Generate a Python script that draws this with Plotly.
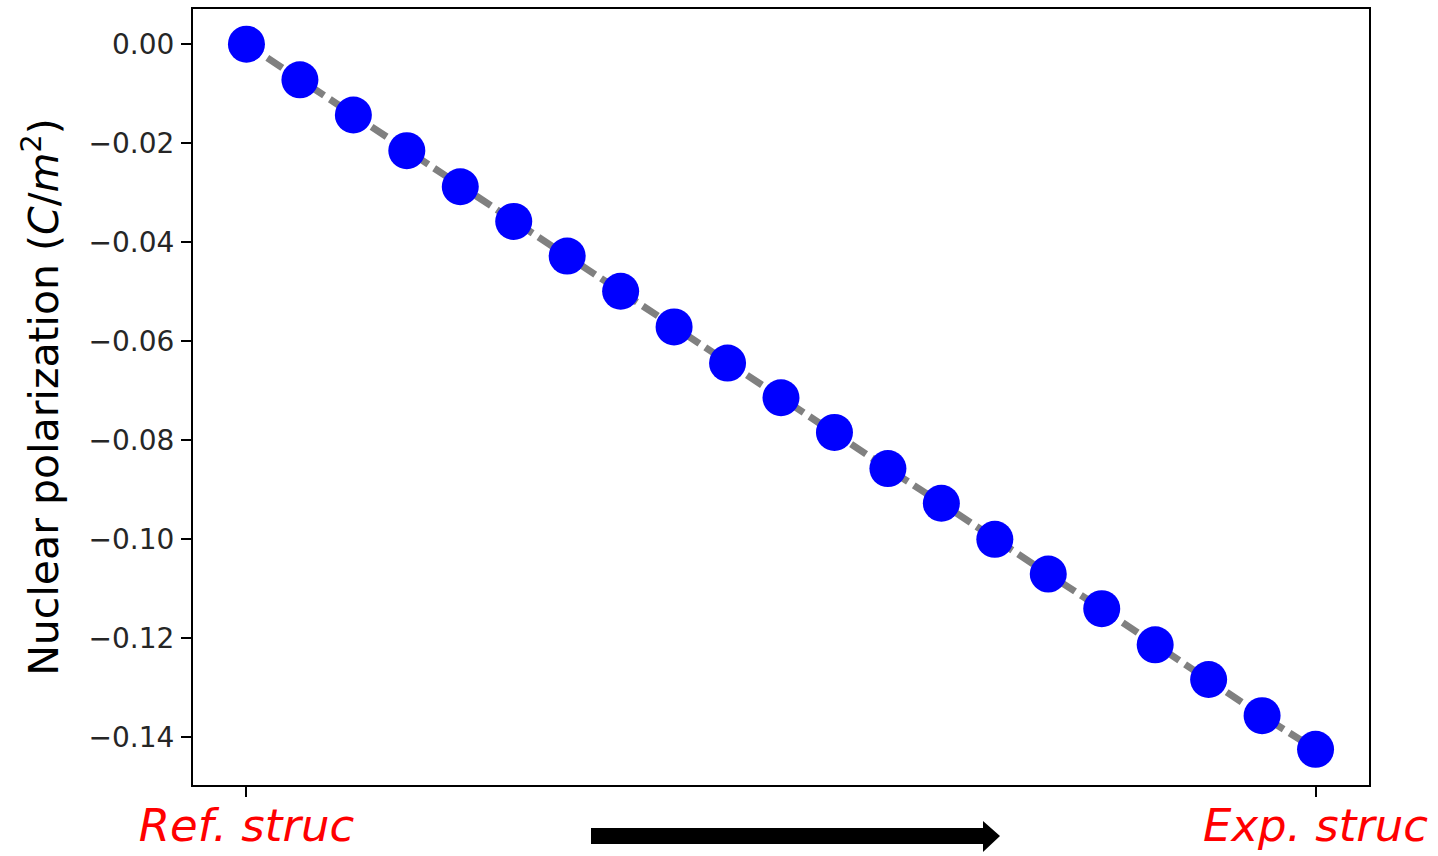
import plotly.graph_objects as go

# ---- data ----
steps = [0, 1, 2, 3, 4, 5, 6, 7, 8, 9, 10, 11, 12, 13, 14, 15, 16, 17, 18, 19, 20]
polarization = [0.0000, -0.0072, -0.0143, -0.0215, -0.0288, -0.0358, -0.0428,
                -0.0499, -0.0571, -0.0644, -0.0714, -0.0784, -0.0857, -0.0927,
                -0.1000, -0.1070, -0.1140, -0.1213, -0.1283, -0.1356, -0.1424]
x_tick_vals = [0, 20]
x_tick_text = ["<i>Ref.</i> <i>struc</i>", "<i>Exp.</i> <i>struc</i>"]
y_tick_vals = [0.00, -0.02, -0.04, -0.06, -0.08, -0.10, -0.12, -0.14]

W, H = 1438, 856
# plot area in window pixels: x 193..1369, y 9..785
L, T = 193, 9
R, B = W - 1369, H - 785
pw, ph = W - L - R, H - T - B

def px(x):
    return (x - L) / pw

def py(y):
    return (H - B - y) / ph

fig = go.Figure()
fig.add_trace(go.Scatter(
    x=steps, y=polarization, mode="lines+markers",
    line=dict(color="#808080", width=7, dash="18px,7px"),
    marker=dict(color="#0000ff", size=37, line=dict(width=0)),
    showlegend=False, hoverinfo="skip",
))

# arrow below the axis
arrow = (f"M {px(591)},{py(828)} L {px(983)},{py(828)} L {px(983)},{py(821)} "
         f"L {px(1000)},{py(836)} L {px(983)},{py(852)} L {px(983)},{py(844)} "
         f"L {px(591)},{py(844)} Z")
fig.add_shape(type="path", path=arrow, xref="paper", yref="paper",
              fillcolor="black", line=dict(width=0))

fig.update_layout(
    width=W, height=H,
    margin=dict(l=L, r=R, t=T, b=B, autoexpand=False),
    paper_bgcolor="white", plot_bgcolor="white",
    font=dict(family="DejaVu Sans", color="#262626"),
)
fig.update_xaxes(
    range=[-1, 21], tickmode="array", tickvals=x_tick_vals, ticktext=x_tick_text,
    tickfont=dict(size=45, color="red", family="DejaVu Sans"),
    ticks="outside", ticklen=10, tickwidth=2, tickcolor="black",
    ticklabelstandoff=-10,
    showline=True, linecolor="black", linewidth=2, mirror=True,
    showgrid=False, zeroline=False, automargin=False,
)
fig.update_yaxes(
    range=[-0.1496, 0.0071], tickmode="array", tickvals=y_tick_vals,
    tickformat=".2f", tickfont=dict(size=28, color="#262626", family="DejaVu Sans"),
    ticks="outside", ticklen=10, tickwidth=2, tickcolor="black",
    ticklabelstandoff=1,
    showline=True, linecolor="black", linewidth=2, mirror=True,
    showgrid=False, zeroline=False, automargin=False,
    title=dict(text="Nuclear polarization (<i>C</i>/<i>m</i><sup>2</sup>)",
               font=dict(size=41, color="black", family="DejaVu Sans"), standoff=17),
)

fig.write_html(
    "out.html",
    config={"displayModeBar": False},
    post_script="document.body.style.margin='0';document.body.style.overflow='hidden';",
)
